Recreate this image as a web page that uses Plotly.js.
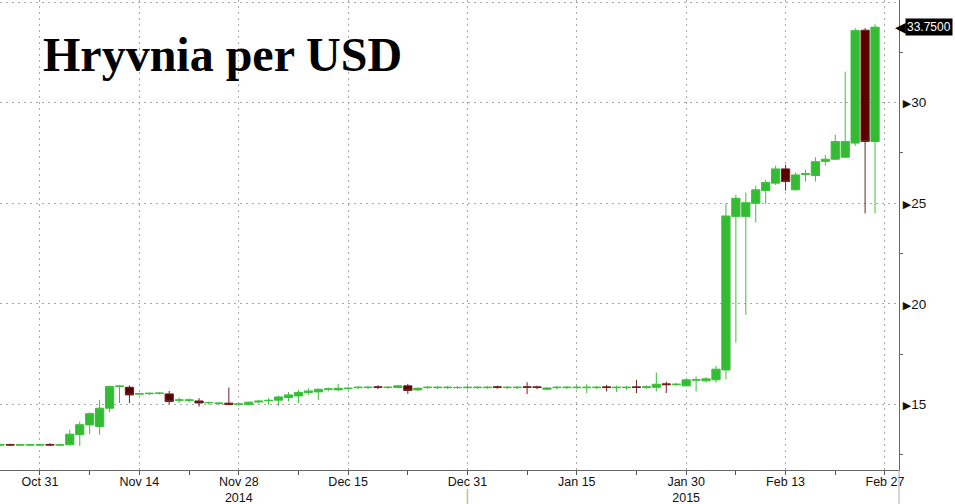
<!DOCTYPE html>
<html>
<head>
<meta charset="utf-8">
<script src="https://cdn.plot.ly/plotly-3.0.1.min.js"></script>
<style>html,body{margin:0;padding:0;background:#fff}#chart{width:955px;height:504px}</style>
</head>
<body>
<div id="chart"></div>
<script>
// Business days (UAH per USD), Oct 27 2014 - Feb 26 2015
const dates = [
 '2014-10-27','2014-10-28','2014-10-29','2014-10-30','2014-10-31',
 '2014-11-03','2014-11-04','2014-11-05','2014-11-06','2014-11-07',
 '2014-11-10','2014-11-11','2014-11-12','2014-11-13','2014-11-14',
 '2014-11-17','2014-11-18','2014-11-19','2014-11-20','2014-11-21',
 '2014-11-24','2014-11-25','2014-11-26','2014-11-27','2014-11-28',
 '2014-12-01','2014-12-02','2014-12-03','2014-12-04','2014-12-05',
 '2014-12-08','2014-12-09','2014-12-10','2014-12-11','2014-12-12',
 '2014-12-15','2014-12-16','2014-12-17','2014-12-18','2014-12-19',
 '2014-12-22','2014-12-23','2014-12-24','2014-12-25','2014-12-26',
 '2014-12-29','2014-12-30','2014-12-31','2015-01-01','2015-01-02',
 '2015-01-05','2015-01-06','2015-01-07','2015-01-08','2015-01-09',
 '2015-01-12','2015-01-13','2015-01-14','2015-01-15','2015-01-16',
 '2015-01-19','2015-01-20','2015-01-21','2015-01-22','2015-01-23',
 '2015-01-26','2015-01-27','2015-01-28','2015-01-29','2015-01-30',
 '2015-02-02','2015-02-03','2015-02-04','2015-02-05','2015-02-06',
 '2015-02-09','2015-02-10','2015-02-11','2015-02-12','2015-02-13',
 '2015-02-16','2015-02-17','2015-02-18','2015-02-19','2015-02-20',
 '2015-02-23','2015-02-24','2015-02-25','2015-02-26'
];
const openV = [
 12.99,13.01,12.99,12.99,12.99,
 13.02,12.99,13.00,13.50,13.99,
 13.91,14.82,15.90,15.86,15.52,
 15.54,15.55,15.53,15.22,15.21,
 15.18,15.09,15.06,15.07,15.02,
 15.00,15.13,15.19,15.22,15.35,
 15.43,15.60,15.63,15.76,15.73,
 15.80,15.84,15.85,15.88,15.85,
 15.85,15.93,15.73,15.84,15.84,
 15.84,15.84,15.84,15.84,15.84,
 15.88,15.84,15.84,15.88,15.88,
 15.76,15.84,15.84,15.84,15.84,
 15.84,15.88,15.84,15.84,15.88,
 15.85,15.86,16.03,15.99,15.93,
 16.21,16.18,16.23,16.72,24.35,
 24.34,25.00,25.63,26.00,26.71,
 25.67,26.43,26.38,27.08,27.19,
 27.29,27.99,33.60,28.07
];
const highV = [
 13.05,13.06,13.05,13.05,13.05,
 13.08,13.06,13.75,14.16,14.62,
 15.23,15.95,15.95,15.95,15.58,
 15.60,15.62,15.68,15.35,15.30,
 15.32,15.15,15.12,15.85,15.08,
 15.15,15.22,15.32,15.45,15.62,
 15.73,15.81,15.80,15.85,16.03,
 15.88,15.92,15.93,15.96,15.92,
 15.95,16.03,15.85,15.92,15.92,
 15.92,15.92,15.92,15.90,15.92,
 15.94,15.92,15.92,16.11,15.94,
 15.86,15.92,15.92,15.95,16.01,
 15.92,15.98,15.94,15.92,16.23,
 15.95,16.59,16.14,16.08,16.30,
 16.39,16.36,16.92,25.00,25.42,
 25.53,25.87,26.16,26.87,26.91,
 26.53,26.66,27.29,27.40,28.40,
 31.54,33.70,33.70,33.90
];
const lowV = [
 12.95,12.94,12.95,12.94,12.95,
 12.94,12.95,12.97,12.95,13.53,
 13.50,14.62,15.07,15.07,15.47,
 15.48,15.50,15.02,15.07,15.10,
 14.90,14.98,14.95,14.98,14.95,
 14.95,15.05,14.99,14.94,15.15,
 15.07,15.48,15.23,15.65,15.68,
 15.70,15.76,15.76,15.76,15.78,
 15.80,15.53,15.68,15.78,15.76,
 15.78,15.78,15.76,15.78,15.78,
 15.78,15.78,15.76,15.52,15.76,
 15.72,15.75,15.76,15.76,15.57,
 15.76,15.65,15.62,15.74,15.57,
 15.78,15.65,15.57,15.92,15.90,
 15.65,16.10,16.09,16.26,18.08,
 19.46,24.04,24.97,25.91,25.63,
 25.63,26.08,26.08,26.87,27.15,
 27.25,27.85,24.50,24.50
];
const closeV = [
 13.00,12.99,13.00,13.00,13.00,
 12.99,13.00,13.53,14.00,14.55,
 14.82,15.90,15.92,15.48,15.54,
 15.56,15.57,15.15,15.23,15.23,
 15.08,15.10,15.07,15.00,15.03,
 15.12,15.17,15.21,15.38,15.48,
 15.60,15.68,15.76,15.78,15.81,
 15.81,15.86,15.86,15.86,15.86,
 15.93,15.70,15.81,15.86,15.86,
 15.86,15.85,15.86,15.86,15.86,
 15.86,15.86,15.86,15.86,15.85,
 15.82,15.86,15.86,15.86,15.86,
 15.86,15.85,15.86,15.86,15.85,
 15.88,16.01,15.99,16.01,16.23,
 16.24,16.28,16.76,24.37,25.25,
 25.03,25.67,26.03,26.71,26.08,
 26.41,26.47,27.07,27.19,28.07,
 28.07,33.58,28.07,33.75
];
const tickDates = ['2014-10-31','2014-11-14','2014-11-28','2014-12-15','2014-12-31','2015-01-15','2015-01-30','2015-02-13','2015-02-27'];
const tickLabels = ['Oct 31','Nov 14','Nov 28<br>2014','Dec 15','Dec 31','Jan 15','Jan 30<br>2015','Feb 13','Feb 27'];
const minorTickDates = ['2014-11-07','2014-11-21','2014-12-08','2014-12-23','2015-01-08','2015-01-23','2015-02-06','2015-02-20'];
const yTicks = [15, 20, 25, 30, 35];
const yMinorTicks = [12.5, 17.5, 22.5, 27.5, 32.5];
const yearBreak = '2014-12-31';
const titleText = 'Hryvnia per USD';

const mid = d => d + ' 12:00';
const green = '#33bb33', maroon = '#5a0000';

const trace = {
  type: 'candlestick',
  x: dates.map(mid),
  open: openV, high: highV, low: lowV, close: closeV,
  increasing: {fillcolor: green, line: {color: '#3cc03c', width: 1}},
  decreasing: {fillcolor: maroon, line: {color: '#6e2222', width: 1}},
  whiskerwidth: 0,
  hoverinfo: 'skip',
  showlegend: false
};

const grid = '#a8a8a8';
const lastClose = closeV[closeV.length - 1];

const layout = {
  width: 955, height: 504,
  margin: {l: 0, r: 56, t: 0, b: 34},
  paper_bgcolor: '#fff', plot_bgcolor: '#fff',
  boxgap: 0.17, boxgroupgap: 0,
  showlegend: false,
  xaxis: {
    type: 'date',
    range: ['2014-10-27 11:30', '2015-03-02 21:50'],
    rangebreaks: [{bounds: ['sat', 'mon']}],
    rangeslider: {visible: false},
    tickmode: 'array',
    tickvals: tickDates.map(mid),
    ticktext: tickLabels,
    ticks: '',
    showline: true, linecolor: '#666', linewidth: 1,
    showgrid: true, gridcolor: grid, griddash: '2px,4px', gridwidth: 1,
    zeroline: false,
    tickfont: {family: 'Liberation Sans, Arial, sans-serif', size: 12.5, color: '#111'},
    minor: {tickmode: 'array', tickvals: tickDates.concat(minorTickDates).map(mid), ticks: 'outside', ticklen: 4, tickcolor: '#555', showgrid: false}
  },
  yaxis: {
    side: 'right',
    range: [11.75, 35.10],
    tickmode: 'array',
    tickvals: yTicks,
    ticktext: yTicks.map(v => '<span style="font-family:DejaVu Sans;font-size:11px">\u25B6</span>' + v),
    ticks: '',
    showline: true, linecolor: '#666', linewidth: 1,
    showgrid: true, gridcolor: grid, griddash: '2px,4px', gridwidth: 1,
    zeroline: false,
    tickfont: {family: 'Liberation Sans, Arial, sans-serif', size: 13.5, color: '#111'},
    minor: {tickmode: 'array', tickvals: yMinorTicks, ticks: 'outside', ticklen: 3, tickcolor: '#666', showgrid: false}
  },
  annotations: [
    {
      text: '<b>' + titleText + '</b>',
      xref: 'paper', yref: 'paper', x: 0.046, y: 0.944,
      xanchor: 'left', yanchor: 'top', showarrow: false,
      font: {family: 'Liberation Serif, Times New Roman, serif', size: 48, color: '#000'}
    },
    {
      text: '\u2502',
      xref: 'x', yref: 'paper', x: mid(yearBreak), y: -0.036,
      xanchor: 'center', yanchor: 'top', showarrow: false, borderpad: 0,
      font: {family: 'DejaVu Sans', size: 14, color: '#aaa'}
    },
    {
      text: '\u25C0',
      xref: 'paper', yref: 'y', x: 1, y: lastClose,
      xanchor: 'right', yanchor: 'middle', xshift: 9, showarrow: false,
      font: {family: 'DejaVu Sans', size: 14, color: '#000'}
    },
    {
      text: lastClose.toFixed(4),
      xref: 'paper', yref: 'y', x: 1, y: lastClose,
      xanchor: 'left', yanchor: 'middle', xshift: 6, showarrow: false,
      bgcolor: '#000', borderpad: 1,
      font: {family: 'Liberation Sans, Arial, sans-serif', size: 12, color: '#fff'}
    }
  ],
  shapes: [
    {type: 'line', xref: 'paper', yref: 'paper', x0: 1, x1: 1, y0: -0.08, y1: 0,
     line: {color: '#aaa', width: 1}}
  ]
};

Plotly.newPlot('chart', [trace], layout, {displayModeBar: false, staticPlot: true});
</script>
</body>
</html>
